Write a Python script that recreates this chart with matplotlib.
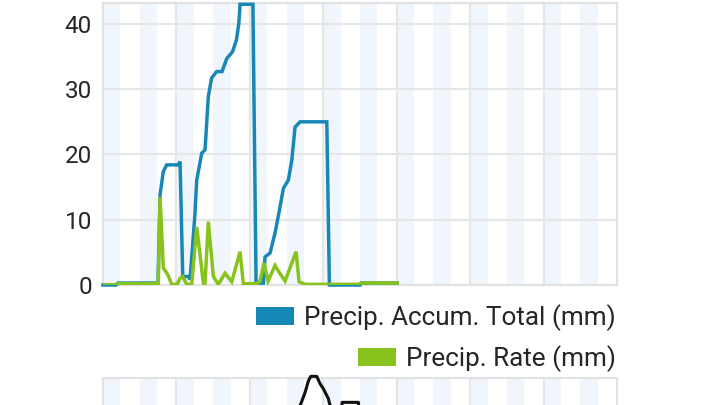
import matplotlib
matplotlib.use("Agg")
import matplotlib.pyplot as plt
from matplotlib.patches import Patch

plt.rcParams['font.family'] = ['Roboto', 'DejaVu Sans']

# ---- data (x in hours from the chart start) ----
accum_hours = [0, 4.25, 4.9, 17.98, 18.64, 19.72, 20.83, 24.62, 25.18, 26.06, 28.1, 28.45,
               30.0, 30.64, 32.27, 33.35, 34.43, 35.5, 37.18, 38.91, 40.45, 42.3, 43.6,
               44.4, 44.8, 49.0, 50.03, 52.42, 52.97, 54.61, 56.24, 57.88, 58.96, 60.59,
               61.70, 62.78, 64.42, 73.15, 74.0, 84.03, 84.36, 96.13]
accum_total = [0, 0, 0.3, 0.3, 13.8, 17.4, 18.4, 18.4, 18.9, 1.3, 1.3, 0.8,
               10.5, 16.1, 20.2, 20.7, 28.9, 31.7, 32.7, 32.7, 34.7, 35.7, 37.5,
               40.1, 43.0, 43.0, 0.3, 0.3, 4.3, 4.9, 8.0, 12.0, 14.8, 16.1,
               19.1, 24.2, 25.0, 25.0, 0, 0, 0.3, 0.3]

rate_hours = [0, 4.25, 4.9, 18.08, 18.64, 19.72, 20.6, 21.35, 22.46, 24.2, 25.18, 26.06,
              27.37, 29.0, 30.64, 32.8, 33.35, 34.43, 36.07, 37.7, 39.89, 42.08, 44.8,
              45.87, 50.26, 51.34, 52.64, 53.95, 56.24, 57.22, 59.51, 63.11, 64.09,
              66.05, 84.03, 84.36, 96.13]
precip_rate = [0, 0, 0.2, 0.2, 13.5, 2.6, 2.0, 1.4, 0.1, 0.1, 1.0, 1.3,
               0.1, 0.1, 8.9, 0.3, 0.3, 9.7, 1.3, 0.1, 1.8, 0.5, 5.1,
               0.2, 0.2, 0.6, 3.4, 0.6, 3.0, 2.2, 0.6, 5.1, 0.5,
               0.1, 0.1, 0.3, 0.3]

# partially visible chart below
lower_hours = [63.1, 64.42, 66.05, 67.13, 67.91, 69.87, 70.95, 72.03, 73.67, 74.22,
               78.05, 78.15, 83.48, 83.71]
lower_values = [85, 90, 94.7, 98.8, 100.4, 100.4, 97.8, 96, 92.5, 90,
                88, 91.2, 91.2, 88]

y_ticks = [0, 10, 20, 30, 40]
series_labels = ['Precip. Accum. Total (mm)', 'Precip. Rate (mm)']

BLUE = '#1788B6'
GREEN = '#88C21C'
GRID = '#e6e6e6'
STRIPE = '#f0f6fc'
TEXT = '#262626'

W, H = 720, 405
fig = plt.figure(figsize=(7.2, 4.05), dpi=100)
fig.patch.set_facecolor('white')


def px_axes(x0, x1, ytop, ybot):
    return fig.add_axes([x0 / W, 1 - ybot / H, (x1 - x0) / W, (ybot - ytop) / H])


def decorate(ax):
    ax.set_xlim(0, 168)
    for d in range(0, 168, 12):
        ax.axvspan(d, d + 5.7, color=STRIPE, lw=0, zorder=0)
    for d in range(24, 168, 24):
        ax.axvline(d, color=GRID, lw=1.5, zorder=1)
    for s in ax.spines.values():
        s.set_color('#e2e2e2')
        s.set_linewidth(1.5)
    ax.set_xticks([])


ax = px_axes(103, 617, 3, 285)
decorate(ax)
ax.set_ylim(0, 43.2)
ax.set_yticks(y_ticks)
ax.tick_params(axis='y', length=0, pad=8, labelsize=17.5, labelcolor=TEXT)
for v in y_ticks[1:]:
    ax.axhline(v, color=GRID, lw=1.5, zorder=1)

ax.plot(accum_hours, accum_total, color=BLUE, lw=2.5, zorder=3,
        solid_joinstyle='miter', clip_on=False)
ax.plot(rate_hours, precip_rate, color=GREEN, lw=2.5, zorder=4,
        solid_joinstyle='miter')

# legend rows, right aligned
for i, (lab, col) in enumerate(zip(series_labels, [BLUE, GREEN])):
    yc = [317.5, 358.5][i]
    fig.legend(handles=[Patch(facecolor=col, edgecolor='none')], labels=[lab],
               loc='center right', bbox_to_anchor=(616 / W, 1 - yc / H),
               frameon=False, borderpad=0, borderaxespad=0,
               handlelength=1.46, handleheight=0.7, handletextpad=0.38,
               prop={'size': 18.8}, labelcolor=TEXT)

# lower chart (cut off by the figure edge)
ax2 = px_axes(103, 617, 377.5, 660)
decorate(ax2)
ax2.set_ylim(0, 100)
ax2.set_yticks([])
ax2.plot(lower_hours, lower_values, color='#111111', lw=2.2, zorder=3, clip_on=False)

fig.savefig('out.png', dpi=100, facecolor='white')
